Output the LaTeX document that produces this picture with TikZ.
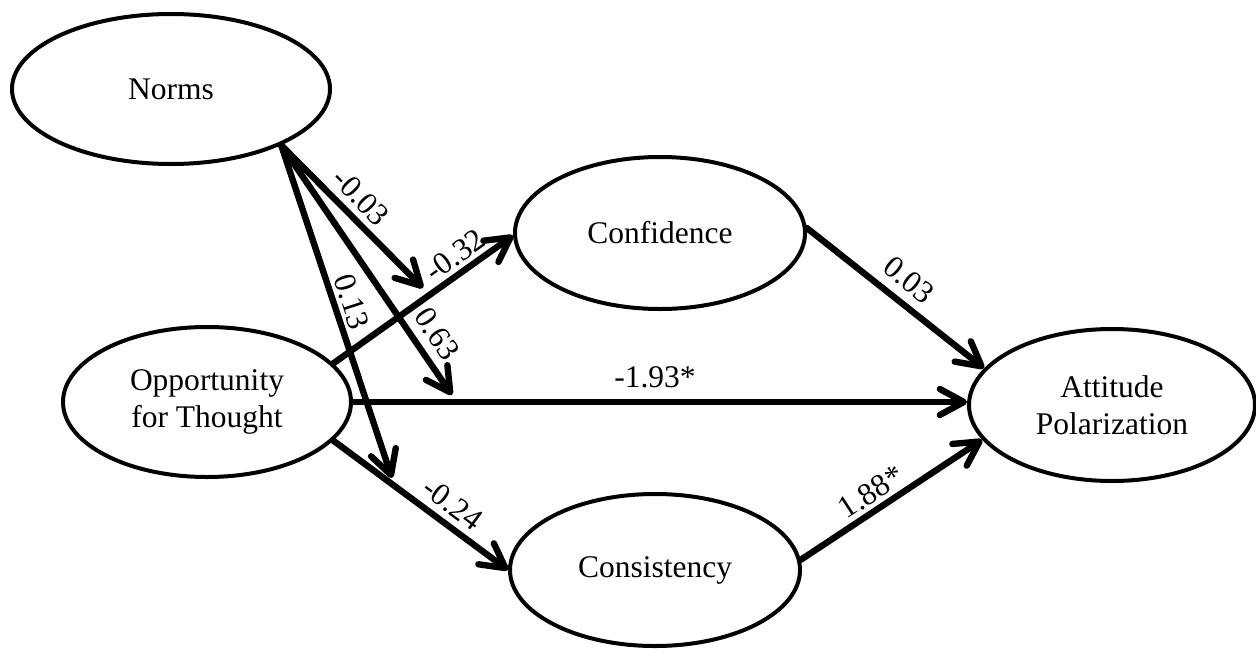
\documentclass[tikz,border=0pt]{standalone}
\usepackage{fontspec}
\setmainfont{Liberation Serif}
\usetikzlibrary{shapes.geometric,arrows.meta}
\begin{document}
\begin{tikzpicture}[x=0.5pt,y=-0.5pt,
  lv/.style={draw, ellipse, line width=2pt, inner sep=0pt, align=center,
    font=\fontsize{15.75}{18.5}\selectfont},
  pth/.style={line width=3.2pt, line cap=round,
    -{Straight Barb[length=12pt,width=13pt,line cap=round,line join=round]}},
  lab/.style={inner sep=0pt, font=\fontsize{15.75}{18.5}\selectfont}]
\useasboundingbox (0,0) rectangle (1256,648);
% latent variables
\node[lv, minimum width=159pt, minimum height=75pt] (N) at (171,89) {Norms};
\node[lv, minimum width=144pt, minimum height=75pt] (O) at (207,402) {Opportunity\\for Thought};
\node[lv, minimum width=145pt, minimum height=76pt] (C) at (660,233) {Confidence};
\node[lv, minimum width=145pt, minimum height=76pt] (S) at (655,570) {Consistency};
\node[lv, minimum width=143pt, minimum height=76pt] (A) at (1112,405) {Attitude\\Polarization};
% moderation targets
\coordinate (m1) at (423,288);
\coordinate (m2) at (452,395);
\coordinate (m3) at (392,478);
% paths
\draw[pth] (O.17) -- (C.181);
\draw[pth] (O.east) -- (O.east -| A.west);
\draw[pth] (O.-17.4) -- (S.west);
\draw[pth] (C.2) -- (A.164);
\draw[pth] (S.4) -- (A.195.7);
\draw[pth] (N.-27.4) -- (m1);
\draw[pth] (N.-27.4) -- (m2);
\draw[pth] (N.-27.4) -- (m3);
% labels
\node[lab, rotate=-46] (l1) at (361,197) {-0.03};
\node[lab, rotate=35.8] (l2) at (455,255) {-0.32};
\node[lab, rotate=-72] (l3) at (352,302) {0.13};
\node[lab, rotate=-56] (l4) at (437,334) {0.63};
\node[lab] (l5) at (655,377) {-1.93*};
\node[lab, rotate=-36.5] (l6) at (453,504) {-0.24};
\node[lab, rotate=-38.9] (l7) at (909,280) {0.03};
\node[lab, rotate=33.2] (l8) at (871,492) {1.88*};
\end{tikzpicture}
\end{document}
